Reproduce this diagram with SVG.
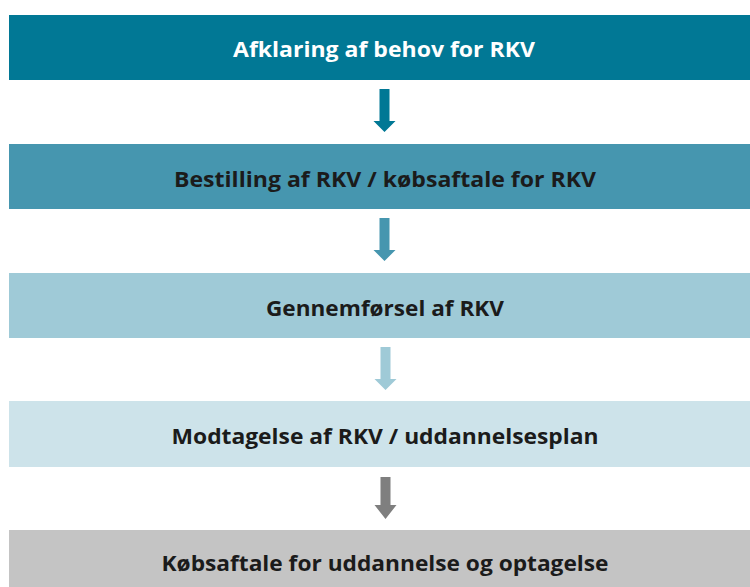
<svg xmlns="http://www.w3.org/2000/svg" width="750" height="587" viewBox="0 0 750 587">
<style>
.lbl{font-family:"Open Sans","Noto Sans","Liberation Sans",sans-serif;font-weight:bold;font-size:22px;text-anchor:middle;fill:#1b1b1b}
.w{fill:#ffffff}
</style>
<rect width="750" height="587" fill="#ffffff"/>
<g id="node1"><rect x="9" y="15" width="751" height="65" fill="#017895"/><text class="lbl w" x="384" y="57" textLength="302" lengthAdjust="spacingAndGlyphs">Afklaring af behov for RKV</text></g>
<g id="node2"><rect x="9" y="144" width="751" height="65" fill="#4696AF"/><text class="lbl" x="385" y="187" textLength="422" lengthAdjust="spacingAndGlyphs">Bestilling af RKV / købsaftale for RKV</text></g>
<g id="node3"><rect x="9" y="273" width="751" height="65" fill="#9FCAD7"/><text class="lbl" x="385" y="316" textLength="238" lengthAdjust="spacingAndGlyphs">Gennemførsel af RKV</text></g>
<g id="node4"><rect x="9" y="401" width="751" height="66" fill="#CDE3EA"/><text class="lbl" x="385" y="444" textLength="427" lengthAdjust="spacingAndGlyphs">Modtagelse af RKV / uddannelsesplan</text></g>
<g id="node5"><rect x="9" y="530" width="751" height="60" fill="#C4C4C4"/><text class="lbl" x="385" y="571" textLength="447" lengthAdjust="spacingAndGlyphs">Købsaftale for uddannelse og optagelse</text></g>
<g id="connectors">
<polygon points="379.5,89 389.5,89 389.5,121 395.5,121 384.5,132 373.5,121 379.5,121" fill="#017895"/>
<polygon points="379.5,218 389.5,218 389.5,250 395.5,250 384.5,261 373.5,250 379.5,250" fill="#4696AF"/>
<polygon points="380.5,347 390.5,347 390.5,379 396.5,379 385.5,390 374.5,379 380.5,379" fill="#9FCAD7"/>
<polygon points="380.5,477 390.5,477 390.5,505 396.5,505 385.5,519 374.5,505 380.5,505" fill="#7F7F7F"/>
</g>
</svg>
